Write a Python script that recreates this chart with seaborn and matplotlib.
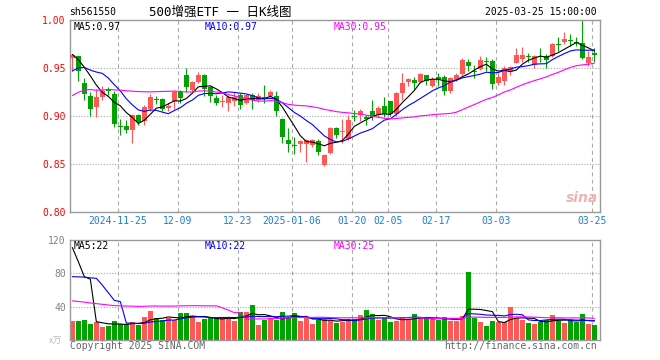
import numpy as np
import pandas as pd
import matplotlib
matplotlib.use('Agg')
import matplotlib.pyplot as plt
import seaborn as sns

# daily bars of sh561550, 2024-11-13 .. 2025-03-25
opens = [0.960, 0.962, 0.934, 0.921, 0.909, 0.920, 0.928, 0.923, 0.890, 0.890,
         0.885, 0.901, 0.895, 0.907, 0.918, 0.918, 0.908, 0.916, 0.925, 0.943,
         0.927, 0.935, 0.943, 0.930, 0.919, 0.915, 0.914, 0.916, 0.922, 0.914,
         0.922, 0.917, 0.920, 0.921, 0.921, 0.897, 0.875, 0.870, 0.871, 0.871,
         0.870, 0.874, 0.849, 0.861, 0.887, 0.883, 0.876, 0.900, 0.901, 0.899,
         0.905, 0.901, 0.910, 0.916, 0.902, 0.924, 0.935, 0.938, 0.935, 0.943,
         0.931, 0.941, 0.941, 0.926, 0.938, 0.944, 0.956, 0.947, 0.949, 0.957,
         0.957, 0.934, 0.936, 0.947, 0.955, 0.959, 0.962, 0.953, 0.962, 0.962,
         0.962, 0.975, 0.977, 0.979, 0.977, 0.976, 0.955, 0.966]
closes = [0.964, 0.947, 0.923, 0.907, 0.920, 0.926, 0.926, 0.892, 0.889, 0.885,
          0.901, 0.894, 0.909, 0.920, 0.917, 0.907, 0.910, 0.925, 0.919, 0.930,
          0.935, 0.943, 0.928, 0.921, 0.914, 0.916, 0.920, 0.920, 0.911, 0.922,
          0.917, 0.921, 0.918, 0.925, 0.905, 0.878, 0.871, 0.869, 0.874, 0.875,
          0.875, 0.862, 0.859, 0.887, 0.880, 0.884, 0.896, 0.899, 0.905, 0.897,
          0.899, 0.908, 0.902, 0.902, 0.924, 0.934, 0.939, 0.934, 0.944, 0.936,
          0.939, 0.938, 0.926, 0.940, 0.943, 0.958, 0.952, 0.946, 0.958, 0.956,
          0.933, 0.941, 0.950, 0.951, 0.964, 0.964, 0.961, 0.962, 0.961, 0.958,
          0.975, 0.974, 0.980, 0.978, 0.976, 0.960, 0.961, 0.964]
highs = [0.965, 0.962, 0.940, 0.925, 0.928, 0.931, 0.930, 0.926, 0.897, 0.896,
         0.902, 0.902, 0.911, 0.923, 0.921, 0.919, 0.914, 0.927, 0.927, 0.950,
         0.936, 0.946, 0.944, 0.931, 0.922, 0.922, 0.922, 0.925, 0.924, 0.923,
         0.924, 0.924, 0.932, 0.927, 0.926, 0.898, 0.887, 0.878, 0.875, 0.876,
         0.876, 0.876, 0.860, 0.889, 0.889, 0.897, 0.901, 0.906, 0.907, 0.901,
         0.917, 0.910, 0.920, 0.916, 0.925, 0.945, 0.940, 0.941, 0.945, 0.943,
         0.941, 0.945, 0.943, 0.941, 0.945, 0.960, 0.959, 0.953, 0.963, 0.961,
         0.959, 0.945, 0.952, 0.952, 0.971, 0.972, 0.966, 0.964, 0.971, 0.965,
         0.976, 0.982, 0.987, 0.985, 0.982, 1.000, 0.968, 0.971]
lows = [0.947, 0.936, 0.917, 0.900, 0.899, 0.917, 0.922, 0.889, 0.880, 0.882,
        0.872, 0.891, 0.891, 0.905, 0.912, 0.905, 0.905, 0.907, 0.914, 0.925,
        0.925, 0.934, 0.921, 0.915, 0.911, 0.909, 0.905, 0.910, 0.907, 0.913,
        0.907, 0.915, 0.914, 0.920, 0.900, 0.872, 0.862, 0.860, 0.862, 0.852,
        0.868, 0.859, 0.848, 0.860, 0.877, 0.872, 0.875, 0.895, 0.895, 0.891,
        0.896, 0.899, 0.899, 0.900, 0.900, 0.917, 0.931, 0.928, 0.934, 0.932,
        0.930, 0.931, 0.922, 0.924, 0.936, 0.943, 0.947, 0.940, 0.948, 0.947,
        0.928, 0.932, 0.932, 0.943, 0.955, 0.956, 0.956, 0.950, 0.956, 0.950,
        0.961, 0.968, 0.975, 0.973, 0.973, 0.959, 0.952, 0.956]
# volume, 万手
volumes = [22.8, 22.8, 24.0, 19.2, 21.2, 16.0, 16.8, 22.8, 18.8, 18.8,
           21.6, 18.0, 27.6, 34.8, 26.0, 24.0, 26.0, 24.0, 32.4, 32.4,
           29.2, 22.0, 25.2, 26.8, 26.0, 26.0, 26.8, 22.8, 34.0, 34.0,
           42.0, 18.4, 24.4, 26.0, 24.4, 33.2, 26.8, 32.0, 22.8, 26.8,
           19.2, 24.0, 25.2, 24.0, 20.8, 22.0, 25.2, 25.2, 30.0, 36.0,
           31.2, 24.0, 26.8, 21.6, 22.8, 26.8, 25.2, 31.2, 26.0, 26.0,
           24.8, 24.0, 27.6, 23.2, 23.2, 29.2, 82.0, 26.8, 22.0, 16.8,
           22.8, 22.0, 21.2, 39.6, 26.0, 24.0, 20.4, 19.2, 21.6, 24.0,
           30.0, 23.2, 20.4, 23.6, 21.6, 31.2, 19.6, 18.0]

# sessions before the first bar, only needed for the moving averages
prior_close = [0.845, 0.860, 0.885, 0.940, 0.925, 0.900, 0.910, 0.895, 0.905, 0.915,
               0.905, 0.915, 0.925, 0.910, 0.900, 0.905, 0.920, 0.930, 0.945, 0.935,
               0.915, 0.918, 0.935, 0.940, 0.940, 0.975, 0.962, 0.952, 0.968]
prior_vol = [48, 45, 52, 44, 40, 42, 44, 28, 26, 25,
             27, 24, 26, 25, 27, 26, 24, 25, 27, 26,
             25, 27, 28, 27, 98, 108, 114, 34, 276]

tick_pos = [8, 18, 28, 37, 47, 53, 61, 71, 87]
tick_labels = ['2024-11-25', '12-09', '12-23', '2025-01-06', '01-20',
               '02-05', '02-17', '03-03', '03-25']
price_ticks = [0.80, 0.85, 0.90, 0.95, 1.00]
vol_ticks = [40, 80, 120]
ma_windows = [5, 10, 30]
ma_colors = ['black', '#0000FF', '#FF00FF']
price_ma_text = ['MA5:0.97', 'MA10:0.97', 'MA30:0.95']
vol_ma_text = ['MA5:22', 'MA10:22', 'MA30:25']

RED = '#FF5656'
GREEN = '#00A300'
GRID = '#AAAAAA'
MONO = ['DejaVu Sans Mono', 'Noto Sans CJK SC']

sns.set_style('white')
plt.rcParams['font.family'] = MONO

n = len(closes)
idx = np.arange(n)
df = pd.DataFrame({'idx': idx, 'open': opens, 'close': closes, 'high': highs,
                   'low': lows, 'vol': volumes})
df['up'] = df['close'] >= df['open']
df['dir'] = np.where(df['up'], 'up', 'down')
colors = np.where(df['up'], RED, GREEN)

all_close = pd.Series(prior_close + closes)
all_vol = pd.Series(prior_vol + volumes)
k0 = len(prior_close)

W, H = 660, 360
fig = plt.figure(figsize=(6.6, 3.6), dpi=100)
ax = fig.add_axes([70 / W, 1 - 212 / H, 530 / W, 192 / H])
axv = fig.add_axes([70 / W, 1 - 340 / H, 530 / W, 100 / H])
xlim = (-0.39, 87.94)

# --- price panel ---
for p in tick_pos:
    ax.axvline(p - 0.39, color=GRID, ls=(0, (3.5, 3)), lw=0.8, zorder=0)
for p in price_ticks[1:-1]:
    ax.axhline(p, color=GRID, ls=(0, (1, 1.5)), lw=0.8, zorder=0)

ax.vlines(df['idx'], df['low'], df['high'], colors=colors, lw=0.8, zorder=2)
body_lo = np.minimum(df['open'], df['close'])
body_h = np.maximum((df['close'] - df['open']).abs(), 0.0011)
ax.bar(df['idx'], body_h, bottom=body_lo, width=0.78, color=colors, linewidth=0, zorder=3)

for w, col in zip(ma_windows, ma_colors):
    ma = all_close.rolling(w).mean().iloc[k0:].to_numpy()
    sns.lineplot(x=idx, y=ma, color=col, lw=0.8, ax=ax, zorder=4)

ax.set_xlim(*xlim)
ax.set_ylim(0.80, 1.00)
ax.set_yticks(price_ticks)
ax.set_yticklabels(['%.2f' % p for p in price_ticks], color='#FF0000', fontsize=7)
ax.set_xticks([p - 0.39 for p in tick_pos])
ax.set_xticklabels(tick_labels, color='#1A7FD0', fontsize=7)
ax.tick_params(length=0, pad=3)
ax.set_xlabel('')
ax.set_ylabel('')

# --- volume panel ---
for p in tick_pos:
    axv.axvline(p - 0.39, color=GRID, ls=(0, (3.5, 3)), lw=0.8, zorder=0)
for p in vol_ticks[:-1]:
    axv.axhline(p, color=GRID, ls=(0, (1, 1.5)), lw=0.8, zorder=0)

sns.barplot(data=df, x='idx', y='vol', hue='dir', palette={'up': RED, 'down': GREEN},
            dodge=False, width=0.78, saturation=1, legend=False, linewidth=0, ax=axv)
for w, col in zip(ma_windows, ma_colors):
    vma = all_vol.rolling(w).mean().iloc[k0:].to_numpy()
    axv.plot(idx, vma, color=col, lw=0.8, zorder=5)

axv.set_xlim(*xlim)
axv.set_ylim(0, 120)
axv.set_xticks([])
axv.set_yticks(vol_ticks)
axv.set_yticklabels([str(v) for v in vol_ticks], color='#808080', fontsize=7)
axv.tick_params(length=0, pad=3)
axv.set_xlabel('')
axv.set_ylabel('')

for a in (ax, axv):
    for s in a.spines.values():
        s.set_color('#999999')
        s.set_linewidth(1)

# --- texts ---
def ftext(x, y, s, **kw):
    fig.text(x / W, 1 - y / H, s, va='center', **kw)

ftext(69, 12, 'sh561550', fontsize=7, color='black')
ftext(149, 12, '500增强ETF 一 日K线图', fontsize=9, color='black', family=MONO)
ftext(597, 12, '2025-03-25 15:00:00', fontsize=7, color='black', ha='right')

for x, s, col in zip([74, 205, 334], price_ma_text, ma_colors):
    ftext(x, 27, s, fontsize=7, color=col)
for x, s, col in zip([74, 205, 334], vol_ma_text, ma_colors):
    ftext(x, 246, s, fontsize=7, color=col)

ftext(56, 341, 'x万', fontsize=6.5, color='#BBBBBB', ha='center',
      family=['Noto Sans CJK SC', 'DejaVu Sans'])
ftext(70, 346, 'Copyright 2025 SINA.COM', fontsize=7, color='#666666')
ftext(597, 346, 'http://finance.sina.com.cn', fontsize=7, color='#666666', ha='right')
ftext(582, 198, 'sina', fontsize=10, color='#E9B5B5', ha='center',
      style='italic', weight='bold', family=['DejaVu Sans'])

fig.savefig('out.png', dpi=100)
